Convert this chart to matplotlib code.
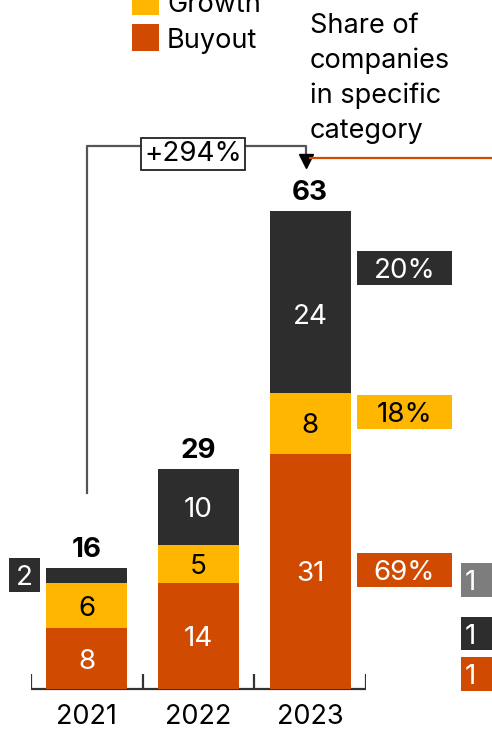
import matplotlib
matplotlib.use("Agg")
import matplotlib.pyplot as plt
from matplotlib.patches import Rectangle

plt.rcParams['font.family'] = ['Inter', 'Liberation Sans', 'DejaVu Sans']

# --- data -------------------------------------------------------------
years = ["2021", "2022", "2023"]
buyout = [8, 14, 31]
growth = [6, 5, 8]
other = [2, 10, 24]
totals = [16, 29, 63]
growth_label = "+294%"
share_labels = ["20%", "18%", "69%"]
note_lines = ["Share of", "companies", "in specific", "category"]
legend_names = ["Growth", "Buyout"]

DARK = "#2D2D2D"
YELLOW = "#FFB600"
ORANGE = "#D04A02"
GREY = "#7D7D7D"
LINE = "#555555"

W, H = 492, 731
PX_PER_UNIT = 7.59
BASE_PX = 689

fig = plt.figure(figsize=(W / 100, H / 100), dpi=100)


def fx(x):
    return x / W


def fy(y):
    return 1 - y / H


def box(x0, y0, x1, y1, color, text, tcolor, size=20, tx=None, ha="center"):
    fig.patches.append(Rectangle((fx(x0), fy(y1)), fx(x1) - fx(x0), fy(y0) - fy(y1),
                                 transform=fig.transFigure, facecolor=color,
                                 edgecolor="none", zorder=1))
    cx = (x0 + x1) / 2 if tx is None else tx
    cy = (y0 + y1) / 2
    fig.text(fx(cx), fy(cy + 10), text, color=tcolor, fontsize=size,
             ha=ha, va="baseline", zorder=2)


ax = fig.add_axes([fx(31), fy(BASE_PX), 335 / W, BASE_PX / H])
ax.set_xlim(-0.5, 2.5)
ax.set_ylim(0, BASE_PX / PX_PER_UNIT)
ax.axis("off")

x = list(range(len(years)))
bw = 0.725
b2 = [a + b for a, b in zip(buyout, growth)]
ax.bar(x, buyout, width=bw, color=ORANGE, zorder=2)
ax.bar(x, growth, width=bw, bottom=buyout, color=YELLOW, zorder=2)
ax.bar(x, other, width=bw, bottom=b2, color=DARK, zorder=2)

# baseline axis with separators
u = 1 / PX_PER_UNIT
ax.plot([-0.5, 2.5], [0, 0], color="#333333", lw=1.6, clip_on=False,
        solid_capstyle="butt", zorder=1)
ax.vlines([-0.5, 0.5, 1.5, 2.5], 0, 15 * u, color="#333333", lw=1.6, zorder=1)

off = 10 * u
other_shift = [0, 0, -12 * u]
for i in x:
    ax.text(i, buyout[i] / 2 - off, str(buyout[i]), ha="center", va="baseline",
            color="white", fontsize=20, zorder=3)
    ax.text(i, buyout[i] + growth[i] / 2 - off, str(growth[i]), ha="center",
            va="baseline", color="black", fontsize=20, zorder=3)
    if other[i] >= 5:
        ax.text(i, b2[i] + other[i] / 2 - off + other_shift[i], str(other[i]),
                ha="center", va="baseline", color="white", fontsize=20, zorder=3)
    ax.text(i, totals[i] + 11 * u, str(totals[i]), ha="center", va="baseline",
            color="black", fontsize=20, fontweight="bold", zorder=3)
    ax.text(i, -35 * u, years[i], ha="center", va="baseline", color="black",
            fontsize=19.5, clip_on=False)

# small segment value placed beside the 2021 bar
box(9, 558, 40, 592, DARK, str(other[0]), "white")

# growth bracket
yb = (BASE_PX - 146) * u
ax.plot([0, 0, 1.96, 1.96], [(BASE_PX - 493) * u, yb, yb, (BASE_PX - 160) * u],
        color=LINE, lw=1.6, clip_on=False, zorder=1)
ax.plot([1.96], [(BASE_PX - 161) * u], marker="v", markersize=10, color="black",
        clip_on=False, zorder=2)
fig.text(fx(193), fy(161), growth_label, fontsize=20, ha="center", va="baseline",
         bbox=dict(boxstyle="square,pad=0.12", facecolor="white",
                   edgecolor="#222222", linewidth=1.3))

# share-of-category note
fig.lines.append(plt.Line2D([fx(310), fx(W)], [fy(158), fy(158)],
                            transform=fig.transFigure, color=ORANGE, lw=1.6))
for k, line in enumerate(note_lines):
    fig.text(fx(310), fy(33 + 35 * k), line, fontsize=19.5, ha="left",
             va="baseline")

box(357, 251, 452, 285, DARK, share_labels[0], "white")
box(357, 395, 452, 429, YELLOW, share_labels[1], "black")
box(357, 553, 452, 587, ORANGE, share_labels[2], "white")

# edge markers of the neighbouring panel
box(461, 563, 500, 597, GREY, "1", "white", tx=465, ha="left")
box(461, 617, 500, 650, DARK, "1", "white", tx=465, ha="left")
box(461, 657, 500, 691, ORANGE, "1", "white", tx=465, ha="left")

# legend
for k, (name, col) in enumerate(zip(legend_names, [YELLOW, ORANGE])):
    top = -12 + 36 * k
    fig.patches.append(Rectangle((fx(132), fy(top + 27)), 27 / W, 27 / H,
                                 transform=fig.transFigure, facecolor=col,
                                 edgecolor="none"))
    fig.text(fx(167), fy(top + 24), name, fontsize=19.5, ha="left", va="baseline")

fig.savefig("out.png", dpi=100)
